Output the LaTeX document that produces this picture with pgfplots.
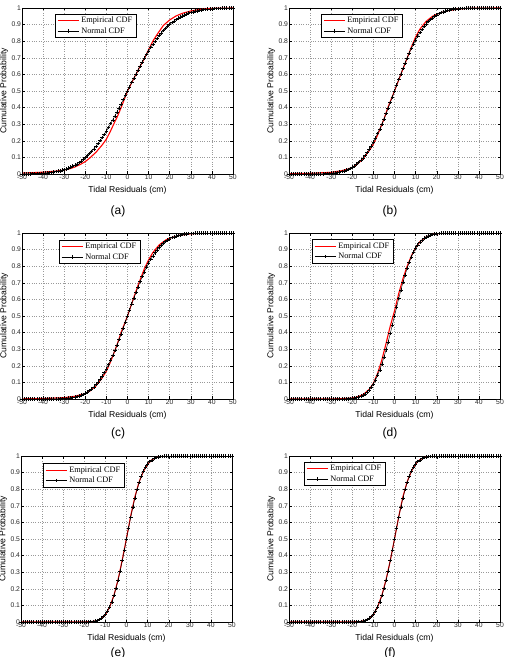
\documentclass[border=0pt]{standalone}
\usepackage{fontspec}
\setmainfont{Liberation Sans}
\newfontfamily\legfont{Liberation Serif}
\usepackage{pgfplots}
\usepackage{pgfplotstable}
\pgfplotsset{compat=1.18}

% Normal CDF values read for the six panels (a)-(f); (e) and (f) share one column
\pgfplotstableread{
x a b c d e
-50 .0006 0 0 0 0
-49 .0008 0 0 0 0
-48 .0010 0 0 0 0
-47 .0012 0 0 0 0
-46 .0015 0 0 0 0
-45 .0018 0 0 0 0
-44 .0023 .0001 .0001 0 0
-43 .0028 .0001 .0001 0 0
-42 .0034 .0002 .0001 0 0
-41 .0041 .0002 .0001 0 0
-40 .0049 .0003 .0002 0 0
-39 .0059 .0003 .0002 0 0
-38 .0071 .0005 .0003 0 0
-37 .0085 .0006 .0004 0 0
-36 .0101 .0009 .0005 0 0
-35 .0120 .0012 .0007 0 0
-34 .0141 .0016 .0010 0 0
-33 .0167 .0021 .0013 0 0
-32 .0195 .0027 .0018 0 0
-31 .0228 .0035 .0024 0 0
-30 .0265 .0045 .0032 0 0
-29 .0307 .0058 .0042 0 0
-28 .0355 .0074 .0055 .0001 0
-27 .0408 .0095 .0071 .0002 0
-26 .0468 .0119 .0091 .0003 0
-25 .0534 .0149 .0115 .0004 0
-24 .0610 .0185 .0146 .0007 0
-23 .0690 .0228 .0183 .0011 0
-22 .0778 .0279 .0228 .0017 .0001
-21 .0880 .0340 .0281 .0026 .0002
-20 .0986 .0412 .0345 .0039 .0004
-19 .1102 .0494 .0421 .0057 .0008
-18 .1228 .0590 .0509 .0082 .0013
-17 .1364 .0698 .0614 .0117 .0023
-16 .1511 .0822 .0730 .0165 .0038
-15 .1665 .0962 .0863 .0228 .0062
-14 .1833 .1119 .1016 .0311 .0098
-13 .2007 .1295 .1188 .0416 .0151
-12 .2195 .1488 .1378 .0548 .0228
-11 .2389 .1694 .1587 .0712 .0334
-10 .2595 .1923 .1816 .0912 .0478
-9 .2809 .2170 .2066 .1151 .0668
-8 .3030 .2433 .2335 .1430 .0912
-7 .3258 .2714 .2623 .1753 .1217
-6 .3494 .3009 .2927 .2119 .1587
-5 .3735 .3318 .3247 .2525 .2023
-4 .3982 .3639 .3581 .2969 .2525
-3 .4233 .3971 .3925 .3446 .3085
-2 .4487 .4310 .4279 .3949 .3694
-1 .4743 .4653 .4638 .4470 .4338
0 .5 .5 .5 .5 .5
1 .5257 .5347 .5362 .5530 .5662
2 .5513 .5690 .5721 .6051 .6306
3 .5767 .6029 .6075 .6554 .6915
4 .6018 .6361 .6419 .7031 .7475
5 .6265 .6682 .6753 .7475 .7977
6 .6506 .6991 .7073 .7881 .8413
7 .6742 .7286 .7377 .8247 .8783
8 .6970 .7567 .7665 .8570 .9088
9 .7191 .7830 .7934 .8849 .9332
10 .7405 .8077 .8184 .9088 .9522
11 .7611 .8306 .8413 .9288 .9666
12 .7805 .8512 .8622 .9452 .9772
13 .7993 .8705 .8812 .9584 .9849
14 .8167 .8881 .8984 .9689 .9902
15 .8335 .9038 .9137 .9772 .9938
16 .8489 .9178 .9270 .9835 .9962
17 .8636 .9302 .9386 .9883 .9977
18 .8772 .9410 .9491 .9918 .9987
19 .8898 .9506 .9579 .9943 .9992
20 .9014 .9588 .9655 .9961 .9996
21 .9120 .9660 .9719 .9974 .9998
22 .9222 .9721 .9772 .9983 .9999
23 .9310 .9772 .9817 .9989 1
24 .9390 .9815 .9854 .9993 1
25 .9466 .9851 .9885 .9996 1
26 .9532 .9881 .9909 .9997 1
27 .9592 .9905 .9929 .9998 1
28 .9645 .9926 .9945 .9999 1
29 .9693 .9942 .9958 1 1
30 .9735 .9955 .9968 1 1
31 .9772 .9965 .9976 1 1
32 .9805 .9973 .9982 1 1
33 .9833 .9979 .9987 1 1
34 .9859 .9984 .9990 1 1
35 .9880 .9988 .9993 1 1
36 .9899 .9991 .9995 1 1
37 .9915 .9994 .9996 1 1
38 .9929 .9995 .9997 1 1
39 .9941 .9997 .9998 1 1
40 .9951 .9997 .9998 1 1
41 .9959 .9998 .9999 1 1
42 .9966 .9998 .9999 1 1
43 .9972 .9999 .9999 1 1
44 .9977 .9999 .9999 1 1
45 .9982 1 1 1 1
46 .9985 1 1 1 1
47 .9988 1 1 1 1
48 .9990 1 1 1 1
49 .9992 1 1 1 1
50 .9994 1 1 1 1
}\normtab

\pgfplotsset{
 cdf/.style={
  scale only axis, width=211pt, height=166pt, anchor=south west,
  xmin=-50, xmax=50, ymin=0, ymax=1,
  xtick={-50,-40,-30,-20,-10,0,10,20,30,40,50},
  xticklabels={-50,-40,-30,-20,-10,0,10,20,30,40,50},
  ytick={0,0.1,0.2,0.3,0.4,0.5,0.6,0.7,0.8,0.9,1},
  yticklabels={0,0.1,0.2,0.3,0.4,0.5,0.6,0.7,0.8,0.9,1},
  grid=major, grid style={dotted, gray!80, line width=0.5pt},
  tick align=inside, major tick length=2.5pt, tick style={black, line width=0.4pt},
  axis line style={black, line width=0.5pt},
  tick label style={font=\fontsize{6.8}{7}\selectfont, text=black!85},
  xticklabel style={inner sep=0.8pt},
  yticklabel style={inner sep=0.8pt},
  xlabel={Tidal Residuals (cm)}, ylabel={Cumulative Probability},
  label style={font=\fontsize{8.6}{9}\selectfont},
  xlabel style={at={(axis description cs:0.5,-0.098)}, anchor=center},
  ylabel style={at={(axis description cs:-0.085,0.5)}, anchor=center},
  legend cell align=left,
  legend style={anchor=north west, font=\legfont\fontsize{8.3}{9}\selectfont,
    draw=black, line width=0.5pt, fill=white, inner xsep=2pt, inner ysep=1pt, row sep=-1pt},
  legend image code/.code={\draw[mark repeat=2,mark phase=2,#1] plot coordinates {(0pt,0pt) (10.5pt,0pt) (21pt,0pt)};},
 },
 emp/.style={color=red, draw=red, line width=1.1pt, mark=none},
 nrm/.style={color=black, line width=0.45pt, mark=+, mark size=1.8pt},
}

\begin{document}
\begin{tikzpicture}[x=1pt,y=1pt]
\useasboundingbox (0,0) rectangle (506,657);

% (a)
\begin{axis}[cdf, at={(22pt,483pt)}, legend style={at={(axis description cs:0.156,0.964)}}]
\addplot[emp] coordinates {(-50,.006) (-45,.008) (-40,.011) (-35,.016) (-30,.024) (-27,.033) (-25,.042) (-22,.06) (-20,.075) (-18,.095) (-15,.13) (-12,.175) (-10,.21) (-8,.26) (-6,.315) (-5,.34) (-3,.40) (0,.50) (2,.55) (4,.60) (6,.65) (8,.695) (10,.75) (12,.80) (14,.84) (17,.895) (20,.928) (23,.952) (26,.968) (30,.982) (35,.993) (40,.998) (45,.999) (50,1)};
\addlegendentry{Empirical CDF}
\addplot[nrm] table[x=x,y=a] {\normtab};
\addlegendentry{Normal CDF}
\end{axis}

% (b)
\begin{axis}[cdf, at={(289pt,483pt)}, legend style={at={(axis description cs:0.152,0.964)}}]
\addplot[emp] coordinates {(-50,.002) (-40,.004) (-30,.01) (-25,.02) (-22,.03) (-20,.04) (-18,.055) (-15,.09) (-12,.14) (-10,.18) (-8,.235) (-5,.33) (-3,.405) (0,.50) (3,.60) (5,.665) (8,.765) (10,.825) (12,.872) (15,.92) (18,.95) (20,.963) (25,.983) (30,.993) (35,.998) (40,.999) (50,1)};
\addlegendentry{Empirical CDF}
\addplot[nrm] table[x=x,y=b] {\normtab};
\addlegendentry{Normal CDF}
\end{axis}

% (c)
\begin{axis}[cdf, at={(22pt,258pt)}, legend style={at={(axis description cs:0.175,0.958)}}]
\addplot[emp] coordinates {(-50,.001) (-40,.003) (-30,.008) (-25,.016) (-20,.033) (-18,.046) (-15,.078) (-12,.127) (-10,.168) (-8,.225) (-5,.325) (-3,.402) (0,.50) (3,.612) (5,.685) (8,.785) (10,.838) (12,.882) (15,.928) (18,.957) (20,.969) (25,.987) (30,.995) (35,.999) (40,1) (50,1)};
\addlegendentry{Empirical CDF}
\addplot[nrm] table[x=x,y=c] {\normtab};
\addlegendentry{Normal CDF}
\end{axis}

% (d)
\begin{axis}[cdf, at={(289pt,258pt)}, legend style={at={(axis description cs:0.109,0.961)}}]
\addplot[emp] coordinates {(-50,0) (-30,.0005) (-25,.002) (-20,.006) (-18,.011) (-15,.025) (-12,.058) (-10,.095) (-8,.155) (-6,.235) (-4,.335) (-2,.44) (0,.53) (2,.635) (4,.725) (6,.80) (8,.862) (10,.912) (12,.947) (15,.976) (18,.991) (20,.996) (25,1) (50,1)};
\addlegendentry{Empirical CDF}
\addplot[nrm] table[x=x,y=d] {\normtab};
\addlegendentry{Normal CDF}
\end{axis}

% (e)
\begin{axis}[cdf, at={(21pt,35pt)}, legend style={at={(axis description cs:0.104,0.955)}}]
\addplot[emp] coordinates {(-50,0) (-30,0) (-20,.0004) (-16,.003) (-14,.008) (-12,.02) (-10,.045) (-8,.09) (-6,.158) (-4,.255) (-2,.375) (0,.505) (2,.64) (4,.755) (6,.845) (8,.907) (10,.95) (12,.977) (14,.99) (16,.997) (18,1) (50,1)};
\addlegendentry{Empirical CDF}
\addplot[nrm] table[x=x,y=e] {\normtab};
\addlegendentry{Normal CDF}
\end{axis}

% (f)
\begin{axis}[cdf, at={(289pt,35pt)}, legend style={at={(axis description cs:0.071,0.964)}}]
\addplot[emp] coordinates {(-50,0) (-30,0) (-20,.0004) (-16,.003) (-14,.009) (-12,.021) (-10,.047) (-8,.092) (-6,.16) (-4,.255) (-2,.37) (0,.50) (2,.635) (4,.755) (6,.845) (8,.908) (10,.951) (12,.977) (14,.99) (16,.997) (18,1) (50,1)};
\addlegendentry{Empirical CDF}
\addplot[nrm] table[x=x,y=e] {\normtab};
\addlegendentry{Normal CDF}
\end{axis}

\node[font=\fontsize{12}{12}\selectfont] at (118,446) {(a)};
\node[font=\fontsize{12}{12}\selectfont] at (390,446) {(b)};
\node[font=\fontsize{12}{12}\selectfont] at (118,224) {(c)};
\node[font=\fontsize{12}{12}\selectfont] at (390,224) {(d)};
\node[font=\fontsize{12}{12}\selectfont] at (118,4) {(e)};
\node[font=\fontsize{12}{12}\selectfont] at (390,4) {(f)};
\end{tikzpicture}
\end{document}
